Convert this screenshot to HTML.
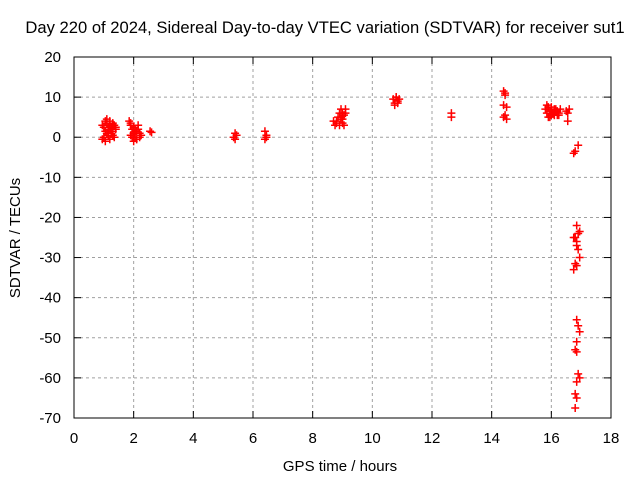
<!DOCTYPE html>
<html><head><meta charset="utf-8"><style>
body{margin:0;background:#fff}
svg text{font-family:"Liberation Sans",sans-serif;font-size:15px;fill:#000}
</style></head><body>
<svg width="640" height="480" xmlns="http://www.w3.org/2000/svg">
<g id="grid"></g><g id="axes"></g><g id="pts"></g>
<text x="325" y="33" text-anchor="middle" style="font-size:16.6px">Day 220 of 2024, Sidereal Day-to-day VTEC variation (SDTVAR) for receiver sut1</text>
<text x="340" y="471" text-anchor="middle">GPS time / hours</text>
<text transform="translate(20,238) rotate(-90)" text-anchor="middle">SDTVAR / TECUs</text>
</svg>
<script>
const xTicks=[0,2,4,6,8,10,12,14,16,18];
const yTicks=[20,10,0,-10,-20,-30,-40,-50,-60,-70];
const hours=[0.95,1.0,1.05,1.1,1.15,1.2,1.25,1.3,1.35,1.4,1.0,1.1,1.2,1.3,1.05,1.15,1.25,1.35,1.1,1.2,1.3,0.95,1.05,1.15,1.25,1.4,1.2,1.3,1.25,1.15,
1.85,1.9,1.95,2.0,2.05,2.1,2.15,2.2,2.25,1.9,2.0,2.1,2.2,1.95,2.05,2.15,1.9,2.0,2.1,2.55,2.6,2.05,2.0,
5.35,5.4,5.45,5.4,6.4,6.45,6.4,6.45,
8.7,8.8,8.9,9.0,9.1,8.75,8.85,8.95,9.05,8.8,8.9,9.0,9.1,8.95,9.05,9.0,8.95,
10.7,10.75,10.8,10.85,10.9,10.75,10.85,10.8,
12.65,12.65,
14.4,14.45,14.45,14.4,14.5,14.45,14.4,14.5,
15.8,15.85,15.9,15.95,16.0,16.05,16.1,16.15,16.2,16.25,16.3,15.9,16.0,16.1,16.2,15.85,15.95,16.05,16.15,16.25,16.5,16.55,16.6,16.55,16.0,16.1,
16.9,16.8,16.75,16.85,16.95,16.9,16.8,16.85,16.75,16.85,16.9,16.95,16.8,16.85,16.75,
16.85,16.9,16.95,16.85,16.8,16.85,16.9,16.95,16.85,16.8,16.85,16.8];
const values=[3,2.5,4,3.5,2,3,2.5,1.5,3,2,0,1,-0.5,0.5,-1,0.5,1,0,4.5,4,3.5,-0.5,1.5,2,1,2.5,2,3,1.5,2.5,
4,3,2,1,0,-0.5,2,1,0.5,3.5,2.5,1.5,0,0,1.5,3,0.5,-1,-0.5,1.5,1.2,2,1,
0,-0.5,0.5,1,-0.5,0.5,1.5,0,
4,3.5,3,4.5,6,3,5,7,5.5,4,6,3.5,7,4.5,3,6,5,
9.5,8.5,10,9,9.5,8,8.5,10,
6,5,
11.5,11,10.5,8,7.5,5.5,5,4.5,
7,6,7.5,6.5,5.5,6,7,6.5,5.5,6,7,5,7.5,5.5,6.5,8,5,6,7,5.5,6.5,6,7,4,6.5,5.5,
-2,-3.5,-4,-22,-23.5,-24,-25,-26,-25,-27,-28,-30,-31.5,-32,-33,
-45.5,-47,-48.5,-51,-53,-53.5,-59,-60,-61,-64,-65,-67.5];
const X=h=>74+h*(611-74)/18, Y=v=>57+(20-v)*(418-57)/90;
const NS="http://www.w3.org/2000/svg";
const grid=document.getElementById('grid'),axes=document.getElementById('axes'),pts=document.getElementById('pts');
function mk(tag,attrs,parent){const e=document.createElementNS(NS,tag);for(const k in attrs)e.setAttribute(k,attrs[k]);parent.appendChild(e);return e;}
const frame=mk('rect',{x:74,y:57,width:537,height:361,fill:'none',stroke:'#000','stroke-width':1},axes);


xTicks.forEach(t=>{const x=X(t);
 if(t>0&&t<18){const g=mk('line',{x1:x,x2:x,y1:57,y2:418,stroke:'#a0a0a0','stroke-dasharray':'3,3'},grid);
 
 }
 mk('line',{x1:x,x2:x,y1:418,y2:411,stroke:'#000'},axes);mk('line',{x1:x,x2:x,y1:57,y2:64,stroke:'#000'},axes);
 const tx=mk('text',{x:x,y:443,'text-anchor':'middle'},axes);tx.textContent=t;
 
 });
yTicks.forEach(t=>{const y=Y(t);
 if(t<20&&t>-70){const g=mk('line',{x1:74,x2:611,y1:y,y2:y,stroke:'#a0a0a0','stroke-dasharray':'3,3'},grid);
 
 }
 mk('line',{x1:74,x2:81,y1:y,y2:y,stroke:'#000'},axes);mk('line',{x1:611,x2:604,y1:y,y2:y,stroke:'#000'},axes);
 const tx=mk('text',{x:61,y:y+5,'text-anchor':'end'},axes);tx.textContent=t;
 
 });
hours.forEach((h,i)=>{const x=X(h),y=Y(values[i]);
 const p=mk('path',{d:`M${x-4},${y}h8M${x},${y-4}v8`,stroke:'#f00','stroke-width':1.5,fill:'none'},pts);
 
 });
</script>
</body></html>
